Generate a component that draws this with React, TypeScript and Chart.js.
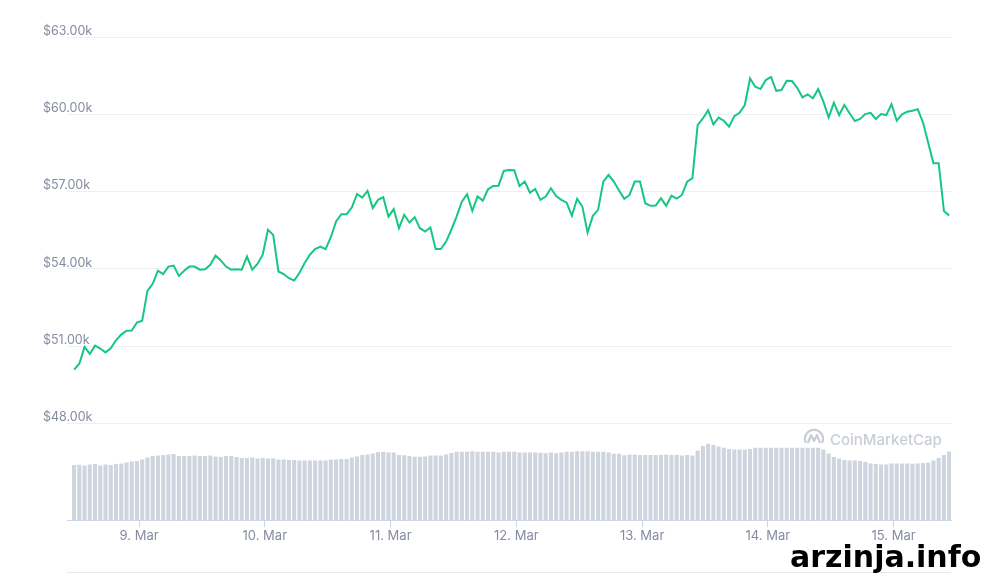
import React, { useEffect, useRef } from 'react';
import { Chart, registerables } from 'chart.js';

Chart.register(...registerables);

// hours after 8 Mar 00:00 of the first hourly sample
const START_HOUR = 11.6;

const PRICE: number[] = [
  50090, 50320, 50970, 50700, 51020, 50910, 50760, 50920, 51230, 51450, 51600, 51610, 51920, 51990, 53150, 53420,
  53930, 53800, 54090, 54130, 53730, 53930, 54090, 54090, 53970, 53990, 54160, 54520, 54330, 54090, 53970, 53990,
  53970, 54480, 53970, 54190, 54550, 55520, 55320, 53900, 53800, 53640, 53550,
  53840, 54230, 54550, 54770, 54870, 54770, 55230, 55840, 56120, 56120, 56380, 56910, 56770, 57030, 56360, 56680,
  56780, 56030, 56320, 55580, 56100, 55800, 56010, 55580, 55450, 55610, 54770, 54770, 55060, 55520, 56030, 56610,
  56900, 56250, 56810, 56650, 57090, 57220, 57230, 57800, 57840, 57830,
  57220, 57390, 56960, 57100, 56680, 56810, 57130, 56830, 56680, 56570, 56060, 56720, 56420, 55410, 56060, 56290,
  57390, 57650, 57390, 57040, 56720, 56870, 57390, 57390, 56550, 56450, 56460, 56740, 56450, 56840, 56730, 56870,
  57390, 57520, 59580, 59840, 60160, 59610, 59870, 59750, 59520, 59930,
  60060, 60360, 61390, 61070, 60980, 61330, 61450, 60910, 60940, 61300, 61290, 61030, 60660, 60770, 60620, 60980,
  60490, 59880, 60450, 59970, 60360, 60040, 59740, 59820, 60010, 60060, 59820, 60010, 59970, 60390, 59750, 60000,
  60100, 60140, 60200, 59690, 58900, 58100, 58100, 56250, 56070,
];

// 24h volume, billions USD
const VOLUME: number[] = [
  45.9, 46.0, 45.5, 46.3, 46.7, 45.5, 46.3, 45.9, 46.7, 47.1,
  47.9, 48.8, 49.2, 50.4, 52.1, 53.3, 53.7, 54.1, 54.5, 55.0,
  53.3, 53.3, 53.3, 53.7, 53.3, 53.3, 53.7, 52.9, 52.5, 53.3,
  53.3, 52.5, 51.7, 51.7, 52.1, 51.2, 51.7, 51.2, 51.2, 50.4,
  50.4, 50.0, 50.0, 49.6, 49.6, 49.6, 49.6, 49.6, 49.6, 50.4,
  50.4, 50.8, 50.8, 52.1, 52.9, 54.1, 54.5, 55.4, 56.6, 56.8,
  56.2, 56.2, 54.1, 54.0, 53.3, 52.6, 52.6, 52.9, 53.7, 53.7,
  53.7, 54.5, 55.8, 56.8, 56.8, 56.8, 57.3, 56.8, 56.8, 56.8,
  56.8, 56.2, 56.8, 56.8, 56.8, 56.2, 56.2, 56.2, 56.2, 56.0,
  55.6, 56.2, 55.6, 56.2, 56.8, 56.8, 57.3, 57.3, 57.3, 56.8,
  56.8, 56.8, 56.2, 55.1, 55.1, 54.0, 54.5, 54.5, 54.1, 54.1,
  54.1, 54.1, 54.1, 54.5, 54.1, 54.1, 53.7, 54.1, 53.7, 57.9,
  61.6, 63.4, 62.4, 61.2, 60.1, 59.1, 58.7, 58.7, 58.7, 59.1,
  60.1, 60.1, 60.1, 60.1, 60.1, 60.1, 60.1, 60.1, 60.1, 60.1,
  60.1, 60.1, 60.1, 58.7, 55.4, 52.5, 51.2, 50.0, 49.6, 49.6,
  49.2, 48.3, 47.1, 46.7, 46.3, 46.3, 47.1, 47.1, 47.1, 47.1,
  46.9, 47.1, 47.5, 47.9, 49.6, 51.7, 54.1, 57.0,
];

const PRICE_TICKS = [48000, 51000, 54000, 57000, 60000, 63000];
const DAY_TICKS = [24, 48, 72, 96, 120, 144, 168];
const DAY_LABELS = ['9. Mar', '10. Mar', '11. Mar', '12. Mar', '13. Mar', '14. Mar', '15. Mar'];

const LABEL_COLOR = '#858ca0';

export default function App() {
  const ref = useRef<HTMLCanvasElement>(null);

  useEffect(() => {
    if (!ref.current) return;
    const hours = PRICE.map((_, i) => START_HOUR + i);
    const chart = new Chart(ref.current, {
      type: 'bar',
      data: {
        datasets: [
          {
            type: 'line',
            label: 'Price',
            data: hours.map((h, i) => ({ x: h, y: PRICE[i] })),
            yAxisID: 'y',
            borderColor: '#16c784',
            borderWidth: 2,
            pointRadius: 0,
            tension: 0,
            order: 0,
          } as any,
          {
            type: 'bar',
            label: 'Volume',
            data: hours.map((h, i) => ({ x: h, y: VOLUME[i] })),
            yAxisID: 'yv',
            backgroundColor: '#cfd5df',
            barPercentage: 1,
            categoryPercentage: 0.78,
            order: 1,
          } as any,
        ],
      },
      options: {
        animation: false,
        responsive: true,
        maintainAspectRatio: false,
        layout: { padding: { left: 67, right: 30, top: 37, bottom: 29 } },
        plugins: { legend: { display: false }, tooltip: { enabled: false } },
        scales: {
          x: {
            type: 'linear',
            offset: false,
            min: START_HOUR - 1.35,
            max: START_HOUR + PRICE.length - 1 + 0.35,
            afterBuildTicks: (s: any) => {
              s.ticks = DAY_TICKS.map((v) => ({ value: v }));
            },
            ticks: {
              autoSkip: false,
              maxRotation: 0,
              padding: 1,
              color: LABEL_COLOR,
              font: { family: 'Inter', size: 13 },
              callback: (v: any) => {
                const k = DAY_TICKS.indexOf(Number(v));
                return k >= 0 ? DAY_LABELS[k] : '';
              },
            },
            grid: { offset: false, drawOnChartArea: false, drawTicks: true, tickLength: 7, color: '#ccd6eb' },
            border: { display: true, color: '#ccd6eb' },
          },
          y: {
            type: 'linear',
            min: 44240,
            max: 63000,
            afterBuildTicks: (s: any) => {
              s.ticks = PRICE_TICKS.map((v) => ({ value: v }));
            },
            ticks: {
              mirror: true,
              padding: -8,
              labelOffset: -6,
              color: LABEL_COLOR,
              font: { family: 'Inter', size: 12.5 },
              callback: (v: any) => '$' + (Number(v) / 1000).toFixed(2) + 'k',
            },
            grid: { color: '#eceff3', drawTicks: false },
            border: { display: false },
          },
          yv: { type: 'linear', display: false, min: 0, max: 400 },
        },
      },
    });
    return () => chart.destroy();
  }, []);

  return (
    <div style={{ position: 'absolute', left: 0, top: 0, width: 981, height: 574, background: '#fff', overflow: 'hidden' }}>
      <canvas ref={ref} />
      <div style={{ position: 'absolute', left: 67, top: 572, width: 884, height: 1, background: '#e6e9ee' }} />
      <svg style={{ position: 'absolute', left: 802, top: 428 }} width="24" height="20" viewBox="0 0 24 20">
        <path d="M4 15 A9 9 0 1 1 20 15" fill="none" stroke="#c9ced6" strokeWidth="2.2" />
        <path d="M6 15 L9 7 L12 13 L15 7 L18 15" fill="none" stroke="#c9ced6" strokeWidth="2.2" strokeLinejoin="round" />
      </svg>
      <div style={{ position: 'absolute', left: 830, top: 431, fontFamily: 'Inter', fontSize: 15, fontWeight: 500, lineHeight: '18px', color: '#c9ced6', whiteSpace: 'nowrap' }}>
        CoinMarketCap
      </div>
      <div style={{ position: 'absolute', left: 790, top: 542, fontFamily: '"DejaVu Sans"', fontWeight: 700, fontSize: 30, lineHeight: '30px', color: '#000', whiteSpace: 'nowrap' }}>
        arzinja.info
      </div>
    </div>
  );
}
